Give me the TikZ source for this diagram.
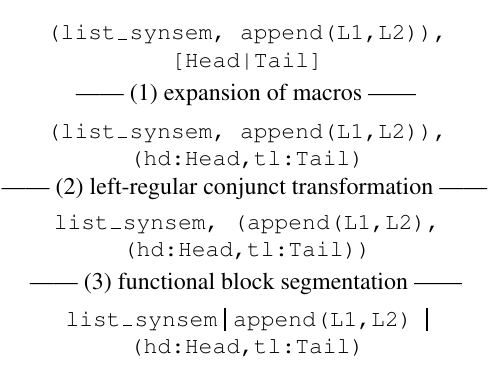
\documentclass[tikz,border=0pt]{standalone}
\usepackage[T1]{fontenc}
\usepackage{mathptmx}
\usepackage{courier}
\usetikzlibrary{positioning}
% low underscore and heavy bar as in the original typesetting
\newcommand{\lowbar}{\makebox[0.6em]{\rule{0.4em}{0.05em}}}
\newcommand{\blk}{\rule[-0.2em]{0.09em}{1.0em}}

\begin{document}
\begin{tikzpicture}[x=1pt,y=1pt,
  term/.style={font=\fontsize{23}{27.5}\selectfont\ttfamily,align=center,inner sep=0pt},
  stage/.style={font=\fontsize{24}{28}\selectfont,inner sep=0pt,text height=0.7em,text depth=0.2em}
]
\useasboundingbox (0,0) rectangle (489,-376);
% terms, top to bottom
\node[term] (src)  at (247,-49)  {(list\lowbar synsem, append(L1,L2)),\\{}[Head|Tail]};
\node[term] (exp)  at (247,-146) {(list\lowbar synsem, append(L1,L2)),\\(hd:Head,tl:Tail)};
\node[term] (conj) at (247,-237) {list\lowbar synsem, (append(L1,L2),\\(hd:Head,tl:Tail))};
\node[term] (seg)  at (247,-332) {list\lowbar synsem\kern0.3em\blk\kern0.3em append(L1,L2)\ \blk\\(hd:Head,tl:Tail)};
% transformation steps
\node[stage] (s1) at (246,-98)  {------~(1) expansion of macros~------};
\node[stage] (s2) at (244.5,-192) {------~(2) left-regular conjunct transformation~------};
\node[stage] (s3) at (246,-287) {------~(3) functional block segmentation~------};
\end{tikzpicture}
\end{document}
